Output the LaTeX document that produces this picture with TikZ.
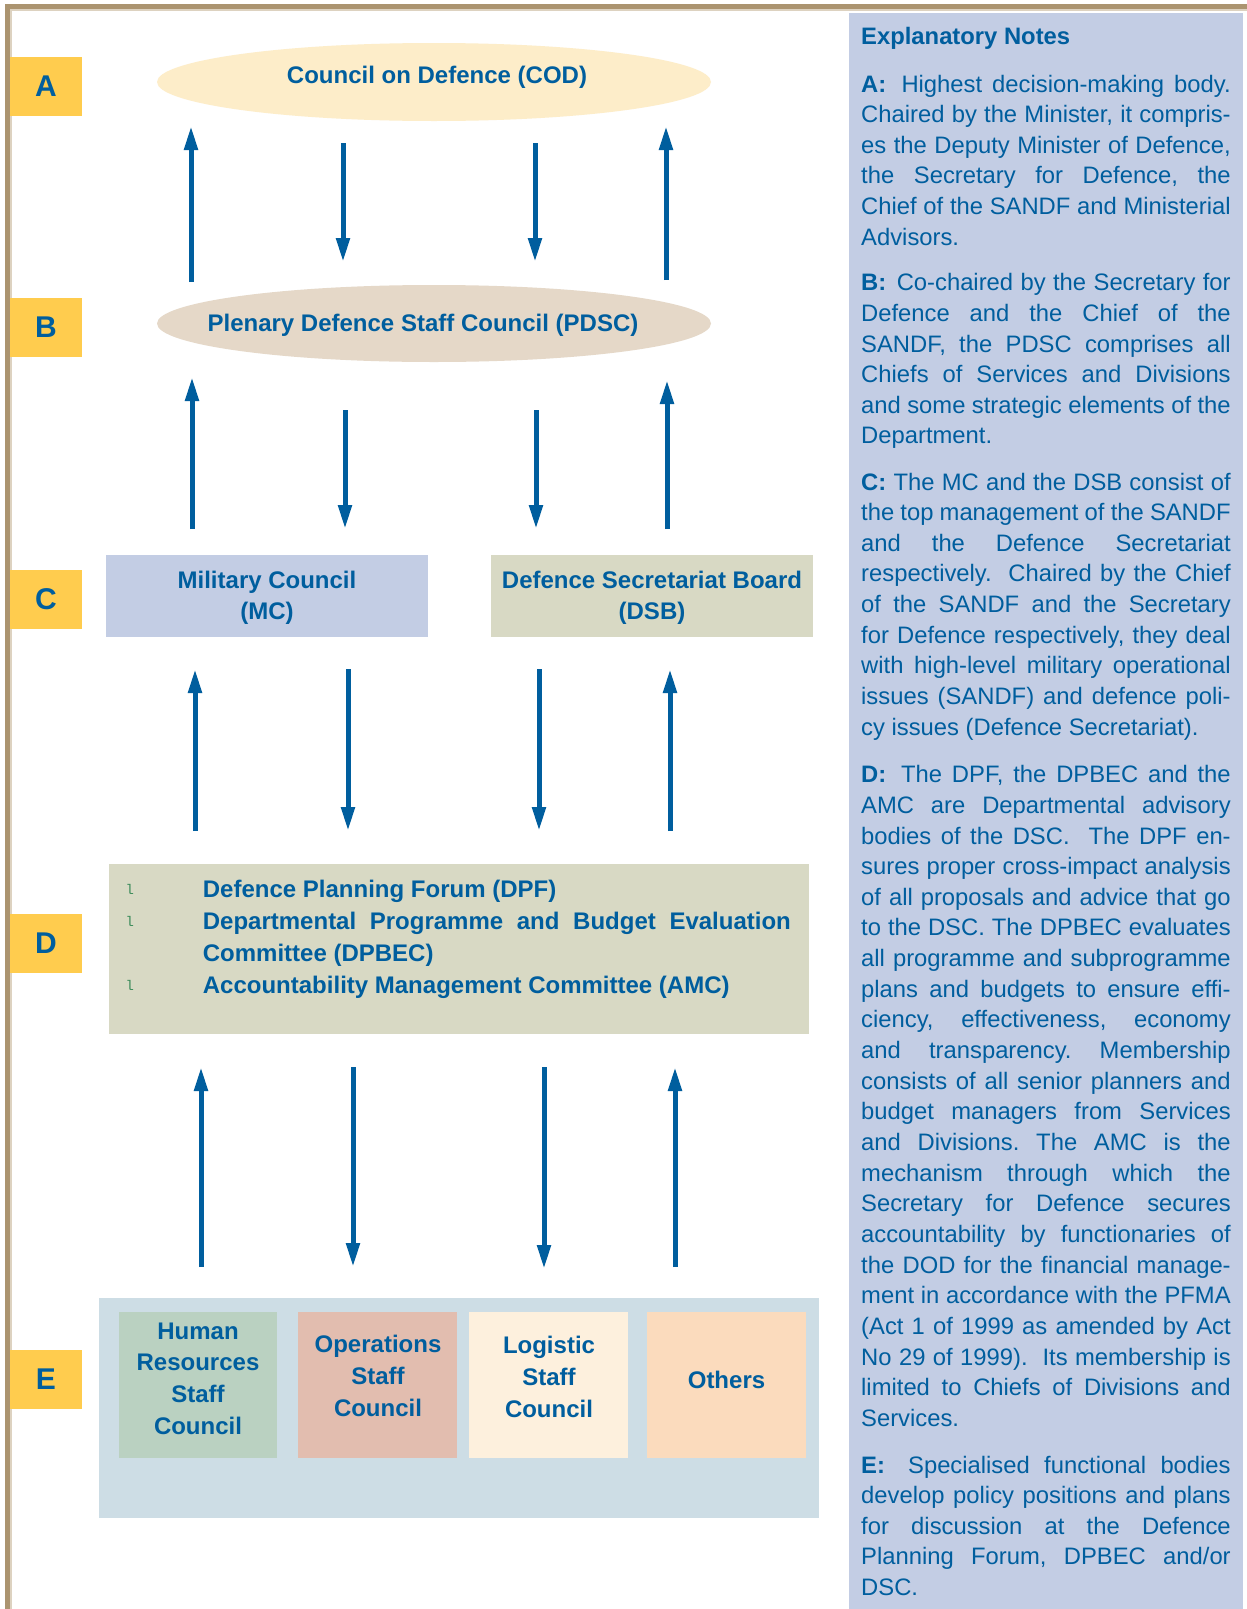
\documentclass[tikz,border=0pt]{standalone}
\usepackage{fontspec}
\setmainfont{Liberation Sans}
\newfontfamily\monofnt{Liberation Mono}
\usetikzlibrary{arrows.meta,shapes.geometric}
\definecolor{tblue}{HTML}{005E9E}
\definecolor{gold}{HTML}{FFCC4E}
\definecolor{codfill}{HTML}{FDEDC9}
\definecolor{pdscfill}{HTML}{E5D8C8}
\definecolor{lav}{HTML}{C3CDE4}
\definecolor{olive}{HTML}{D8D9C4}
\definecolor{ebg}{HTML}{CDDDE5}
\definecolor{hrfill}{HTML}{BAD1C1}
\definecolor{opsfill}{HTML}{E2BDAF}
\definecolor{logfill}{HTML}{FDF0DD}
\definecolor{othfill}{HTML}{FBDBBD}
\definecolor{bordc}{HTML}{AB9470}
\definecolor{bordl}{HTML}{DDD2C0}
\definecolor{bulgreen}{HTML}{3C8C5A}
\frenchspacing
\newcommand\dfont{\fontsize{24}{31}\selectfont\bfseries}
\newcommand\nfont{\fontsize{23.8}{30.65}\selectfont}
\newlength\notew \setlength\notew{369.5pt}
\newcommand\jl[1]{\hbox to \notew{#1}}
\newcommand\lastln[1]{\hbox{#1}}
\newcommand\notepara[1]{\vtop{\frenchspacing\hsize=\notew\baselineskip=30.65pt\lineskiplimit=-50pt\lineskip=0pt\relax#1}}
\newcommand\cstack[2]{\vtop{\baselineskip=#1\lineskiplimit=-50pt\lineskip=0pt\halign{\hfil##\hfil\cr#2\crcr}}}
\newcommand\bul{\llap{\raisebox{3pt}{\color{bulgreen}\monofnt\mdseries\fontsize{14}{14}\selectfont l}\hspace{69pt}}}
\newcommand\lead[1]{\textbf{#1}\hspace{9pt plus 6pt}}
\begin{document}
\begin{tikzpicture}[x=1pt,y=-1pt,
  txt/.style={inner sep=0pt,text=tblue,font=\dfont},
  note/.style={inner sep=0pt,text=tblue,font=\nfont,anchor=base west},
  lbl/.style={fill=gold,inner sep=0pt,minimum width=72pt,minimum height=59pt,text=tblue,font=\fontsize{30}{30}\selectfont\bfseries},
  oval/.style={ellipse,inner sep=0pt,minimum width=554pt,minimum height=78pt},
  boxn/.style={rectangle,inner sep=0pt},
  arr/.style={draw=tblue,line width=5pt,-{Triangle[width=13pt,length=24pt]}}]
\useasboundingbox (0,0) rectangle (1247,1609);
\fill[white] (0,0) rectangle (1247,1609);
% frame
\fill[bordc] (5,4) rectangle (1247,9);
\fill[bordc] (5,4) rectangle (10,1609);
\fill[bordl] (10,9) rectangle (1247,10.6);
\fill[bordl] (10,9) rectangle (11.6,1609);
% notes panel
\fill[lav] (849,13) rectangle (1243,1609);
% level labels
\node[lbl] (LA) at (46,86) {A};
\node[lbl] (LB) at (46,327) {B};
\node[lbl] (LC) at (46,599) {C};
\node[lbl] (LD) at (46,943) {D};
\node[lbl] (LE) at (46,1379) {E};
% A and B
\node[oval,fill=codfill] (COD) at (434,82) {};
\node[txt,anchor=base] (CODt) at (437,83) {Council on Defence (COD)};
\node[oval,fill=pdscfill,minimum height=77pt] (PDSC) at (434,323.5) {};
\node[txt,anchor=base] (PDSCt) at (423,331) {Plenary Defence Staff Council (PDSC)};
% C
\node[boxn,fill=lav,minimum width=322pt,minimum height=82pt] (MC) at (267,596) {};
\node[txt,anchor=base] (MCt) at (267,588) {\cstack{31pt}{Military Council\cr (MC)}};
\node[boxn,fill=olive,minimum width=322pt,minimum height=82pt] (DSB) at (652,596) {};
\node[txt,anchor=base] (DSBt) at (652,588) {\cstack{31pt}{Defence Secretariat Board\cr (DSB)}};
% D
\node[boxn,fill=olive,minimum width=700pt,minimum height=170pt] (Db) at (459,949) {};
\node[txt,anchor=base west] (Dt) at (202.7,897) {\vtop{\baselineskip=32.3pt\lineskiplimit=-50pt\lineskip=0pt
\hbox{\bul Defence Planning Forum (DPF)}%
\hbox to 588pt{\bul Departmental Programme and Budget Evaluation}%
\hbox{Committee (DPBEC)}%
\hbox{\bul Accountability Management Committee (AMC)}}};
% E
\node[boxn,fill=ebg,minimum width=720pt,minimum height=220pt] (Eb) at (459,1408) {};
\node[boxn,fill=hrfill,minimum width=158pt,minimum height=146pt] (HR) at (198,1385) {};
\node[boxn,fill=opsfill,minimum width=159pt,minimum height=146pt] (OPS) at (377.5,1385) {};
\node[boxn,fill=logfill,minimum width=159pt,minimum height=146pt] (LOG) at (548.5,1385) {};
\node[boxn,fill=othfill,minimum width=159pt,minimum height=146pt] (OTH) at (726.5,1385) {};
\node[txt,anchor=base] (HRt) at (198,1339) {\cstack{31.7pt}{Human\cr Resources\cr Staff\cr Council}};
\node[txt,anchor=base] (OPSt) at (378,1352.5) {\cstack{32.2pt}{Operations\cr Staff\cr Council}};
\node[txt,anchor=base] (LOGt) at (549,1353) {\cstack{32.2pt}{Logistic\cr Staff\cr Council}};
\node[txt,anchor=base] (OTHt) at (726.5,1388) {Others};
% arrows
\foreach \n/\x/\ya/\yb in {ab1/191/282/126,ab2/343/143/262,ab3/535/143/262,ab4/666/280/126,
  bc1/192/529/377,bc2/345/410/529,bc3/536/410/529,bc4/667/529/380,
  cd1/195/831/669,cd2/348/669/831,cd3/539/669/831,cd4/670/831/669,
  de1/201/1267/1067,de2/353/1067/1267,de3/544/1067/1269,de4/675/1267/1067}{
  \coordinate (\n-s) at (\x,\ya);
  \coordinate (\n-e) at (\x,\yb);
  \draw[arr] (\n-s) -- (\n-e);
}
% notes
\node[note,font=\nfont\bfseries] (nT) at (861,44) {Explanatory Notes};
\node[note] (nA) at (861,92) {\notepara{%
\jl{\lead{A:}Highest decision-making body.}%
\jl{Chaired by the Minister, it compris-}%
\jl{es the Deputy Minister of Defence,}%
\jl{the Secretary for Defence, the}%
\jl{Chief of the SANDF and Ministerial}%
\lastln{Advisors.}}};
\node[note] (nB) at (861,290.7) {\notepara{%
\jl{\lead{B:}Co-chaired by the Secretary for}%
\jl{Defence and the Chief of the}%
\jl{SANDF, the PDSC comprises all}%
\jl{Chiefs of Services and Divisions}%
\jl{and some strategic elements of the}%
\lastln{Department.}}};
\node[note] (nC) at (861,490) {\notepara{%
\jl{\textbf{C:} The MC and the DSB consist of}%
\jl{the top management of the SANDF}%
\jl{and the Defence Secretariat}%
\jl{respectively.\ \ Chaired by the Chief}%
\jl{of the SANDF and the Secretary}%
\jl{for Defence respectively, they deal}%
\jl{with high-level military operational}%
\jl{issues (SANDF) and defence poli-}%
\lastln{cy issues (Defence Secretariat).}}};
\node[note] (nD) at (861,782.7) {\notepara{%
\jl{\lead{D:}The DPF, the DPBEC and the}%
\jl{AMC are Departmental advisory}%
\jl{bodies of the DSC.\ \ The DPF en-}%
\jl{sures proper cross-impact analysis}%
\jl{of all proposals and advice that go}%
\jl{to the DSC. The DPBEC evaluates}%
\jl{all programme and subprogramme}%
\jl{plans and budgets to ensure effi-}%
\jl{ciency, effectiveness, economy}%
\jl{and transparency. Membership}%
\jl{consists of all senior planners and}%
\jl{budget managers from Services}%
\jl{and Divisions. The AMC is the}%
\jl{mechanism through which the}%
\jl{Secretary for Defence secures}%
\jl{accountability by functionaries of}%
\jl{the DOD for the financial manage-}%
\jl{ment in accordance with the PFMA}%
\jl{(Act 1 of 1999 as amended by Act}%
\jl{No 29 of 1999).\ \ Its membership is}%
\jl{limited to Chiefs of Divisions and}%
\lastln{Services.}}};
\node[note] (nE) at (861,1473) {\notepara{%
\jl{\lead{E:}Specialised functional bodies}%
\jl{develop policy positions and plans}%
\jl{for discussion at the Defence}%
\jl{Planning Forum, DPBEC and/or}%
\lastln{DSC.}}};
\end{tikzpicture}
\end{document}
